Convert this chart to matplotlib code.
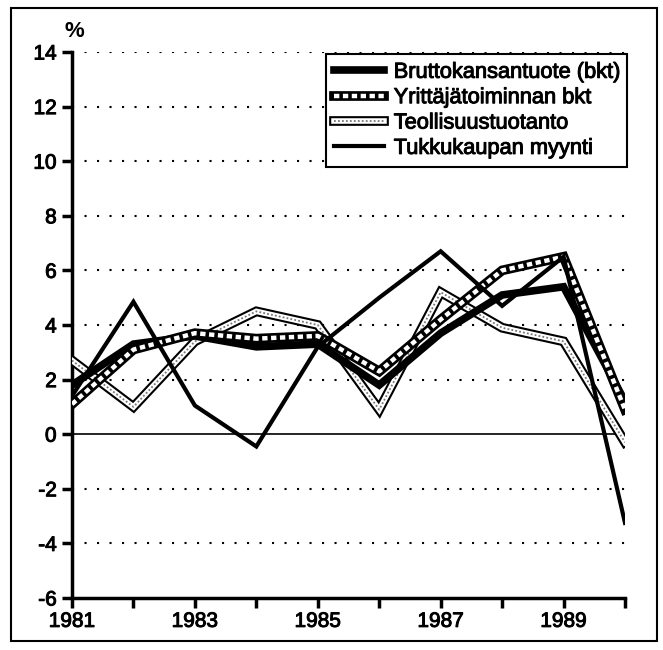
import matplotlib
matplotlib.use("Agg")
import matplotlib.pyplot as plt
import matplotlib.patheffects as pe
from matplotlib.patches import Rectangle

plt.rcParams['font.family'] = ['Liberation Sans', 'DejaVu Sans']

years = [1981, 1982, 1983, 1984, 1985, 1986, 1987, 1988, 1989, 1990]
bkt = [1.8, 3.3, 3.6, 3.2, 3.3, 1.8, 3.7, 5.1, 5.4, 1.2]
yritt = [1.1, 3.1, 3.7, 3.5, 3.6, 2.3, 4.2, 6.0, 6.5, 0.9]
teoll = [2.7, 1.0, 3.4, 4.5, 4.0, 0.9, 5.2, 3.9, 3.4, -0.3]
tukku = [1.4, 4.85, 1.05, -0.45, 3.2, 5.0, 6.7, 4.7, 6.5, -3.25]

labels = ["Bruttokansantuote (bkt)", "Yrittäjätoiminnan bkt",
          "Teollisuustuotanto", "Tukkukaupan myynti"]
yticks = list(range(-6, 15, 2))
xtick_labels = ["1981", "", "1983", "", "1985", "", "1987", "", "1989", ""]

heavy = [pe.withStroke(linewidth=0.7, foreground='black')]

fig = plt.figure(figsize=(6.63, 6.5), dpi=100)
ax = fig.add_axes([72/663, 52/650, 553/663, 546/650])

# grid
for v in yticks:
    if v in (0, -6):
        continue
    ax.axhline(v, color='black', lw=1.5, linestyle=(0, (1, 5)), zorder=1)
ax.axhline(0, color='black', lw=1.2, zorder=1)

# Teollisuustuotanto: outlined band with dotted center
t1, = ax.plot(years, teoll, color='black', lw=7, solid_joinstyle='miter', zorder=3)
t2, = ax.plot(years, teoll, color='white', lw=4, solid_joinstyle='miter', zorder=3)
t3, = ax.plot(years, teoll, color='#777777', lw=1.3, linestyle=(0, (1, 1.2)), zorder=3)

# Bruttokansantuote
b1, = ax.plot(years, bkt, color='black', lw=5.5, solid_joinstyle='miter', zorder=4)

# Yrittäjätoiminnan bkt: black band with white dashes
y1, = ax.plot(years, yritt, color='black', lw=7, solid_joinstyle='miter', zorder=5)
y2, = ax.plot(years, yritt, color='white', lw=3.2, linestyle=(0, (1.2, 0.8)), zorder=5)

# Tukkukaupan myynti
k1, = ax.plot(years, tukku, color='black', lw=3, solid_joinstyle='miter', zorder=6)

ax.set_xlim(1981, 1990)
ax.set_ylim(-6, 14)
ax.set_yticks(yticks)
ax.set_yticklabels([str(v) for v in yticks])
ax.set_xticks(years)
ax.set_xticklabels(xtick_labels)
for s in ['top', 'right']:
    ax.spines[s].set_visible(False)
for s in ['left', 'bottom']:
    ax.spines[s].set_linewidth(2.5)
ax.tick_params(axis='both', direction='out', length=7, width=2.5, labelsize=15, pad=4)
ax.tick_params(axis='x', pad=3)
for lab in ax.get_xticklabels() + ax.get_yticklabels():
    lab.set_path_effects(heavy)

ax.text(0.005, 1.018, "%", transform=ax.transAxes, fontsize=16, fontweight='bold',
        ha='center', va='bottom')

leg = ax.legend([b1, (y1, y2), (t1, t2, t3), k1], labels,
                loc='upper right', bbox_to_anchor=(1.0036, 0.996), borderaxespad=0,
                fontsize=15.7, handlelength=2.3, handletextpad=0.45,
                labelspacing=0.2, borderpad=0.35, fancybox=False, framealpha=1,
                edgecolor='black')
leg.get_frame().set_linewidth(1.5)
leg.set_zorder(10)
for txt in leg.get_texts():
    txt.set_path_effects(heavy)

fig.patches.append(Rectangle((11/663, 9/650), 646/663, 633/650, transform=fig.transFigure,
                             fill=False, edgecolor='black', lw=1.5))

fig.savefig("out.png", dpi=100)
